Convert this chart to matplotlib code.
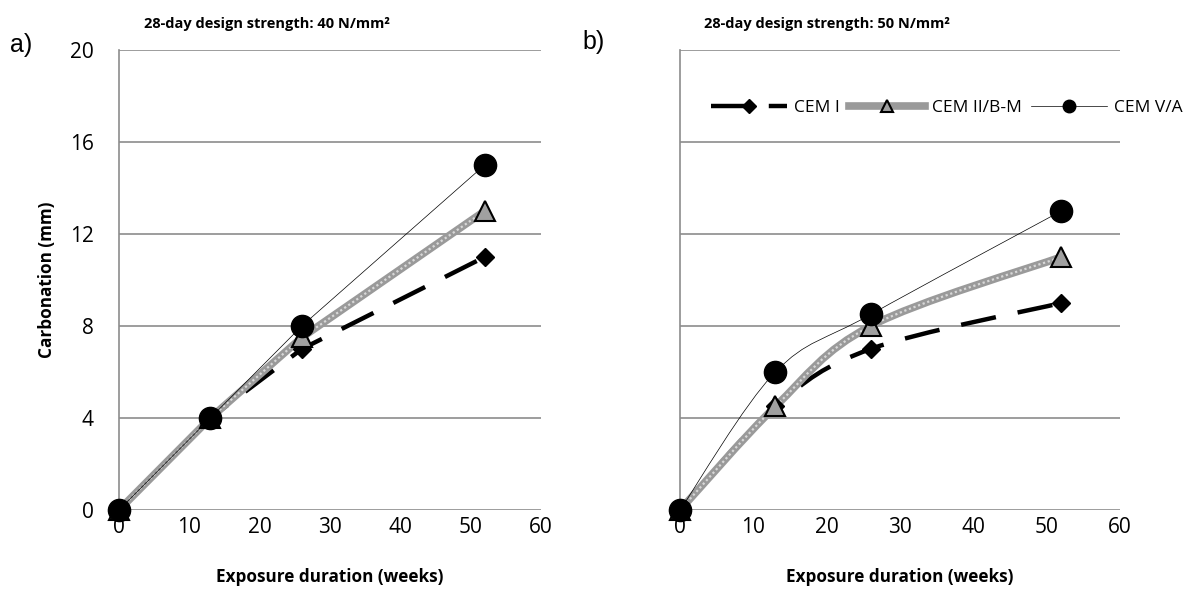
import numpy as np
import matplotlib.pyplot as plt
from matplotlib.path import Path
from matplotlib.patches import PathPatch
from matplotlib.lines import Line2D

plt.rcParams['font.family'] = ['Open Sans', 'DejaVu Sans']

weeks = [0, 13, 26, 52]

# a) 40 N/mm2
a_cem1 = [0, 4, 7, 11]
a_cem2 = [0, 4, 7.5, 13]
a_cem5 = [0, 4, 8, 15]

# b) 50 N/mm2
b_cem1 = [0, 4.5, 7, 9]
b_cem2 = [0, 4.5, 8, 11]
b_cem5 = [0, 6, 8.5, 13]

series_names = ['CEM I', 'CEM II/B-M', 'CEM V/A']
x_ticks = [0, 10, 20, 30, 40, 50, 60]
y_ticks = [0, 4, 8, 12, 16, 20]

styles = [
    dict(color='black', lw=3.2, dashes=(8, 5), zorder=3),
    dict(color='#9a9a9a', lw=5.5, zorder=4),
    dict(color='black', lw=0.5, zorder=5),
]
marks = [
    dict(marker='D', ms=9, mfc='black', mec='black', zorder=6),
    dict(marker='^', ms=15, mfc='#a0a0a0', mec='black', mew=1.5, zorder=7),
    dict(marker='o', ms=16, mfc='black', mec='black', zorder=8),
]


def smooth_path(x, y):
    # excel-style smoothed line as cubic bezier segments
    pts = np.column_stack([x, y]).astype(float)
    n = len(pts)
    verts = [pts[0]]
    codes = [Path.MOVETO]
    for i in range(n - 1):
        p0 = pts[i - 1] if i > 0 else pts[i]
        p1 = pts[i]
        p2 = pts[i + 1]
        p3 = pts[i + 2] if i + 2 < n else pts[i + 1]
        c1 = p1 + (p2 - p0) / 6
        c2 = p2 - (p3 - p1) / 6
        verts += [c1, c2, p2]
        codes += [Path.CURVE4] * 3
    return Path(verts, codes)


def draw(ax, ys, smooth):
    for y, st, mk in zip(ys, styles, marks):
        st = dict(st)
        dashes = st.pop('dashes', None)
        if smooth:
            patch = PathPatch(smooth_path(weeks, y), fill=False, edgecolor=st['color'],
                              lw=st['lw'], zorder=st['zorder'], capstyle='butt')
            if dashes:
                patch.set_linestyle((0, dashes))
            ax.add_patch(patch)
            if st['color'] == '#9a9a9a':
                p2 = PathPatch(smooth_path(weeks, y), fill=False, edgecolor='#d8d8d8',
                               lw=1.6, ls=(0, (1, 1.2)), zorder=st['zorder'])
                ax.add_patch(p2)
        else:
            kw = dict(st)
            if dashes:
                kw['dashes'] = dashes
            ax.plot(weeks, y, solid_capstyle='butt', dash_capstyle='butt', **kw)
            if st['color'] == '#9a9a9a':
                ax.plot(weeks, y, color='#d8d8d8', lw=1.6, ls=(0, (1, 1.2)), zorder=st['zorder'])
        ax.plot(weeks, y, ls='none', **mk)


fig = plt.figure(figsize=(12.03, 5.99), dpi=100)
ax1 = fig.add_axes([0.0989, 0.1486, 0.3508, 0.768])
ax2 = fig.add_axes([0.5653, 0.1486, 0.3657, 0.768])

draw(ax1, [a_cem1, a_cem2, a_cem5], smooth=False)
draw(ax2, [b_cem1, b_cem2, b_cem5], smooth=True)

for ax in (ax1, ax2):
    ax.set_xlim(0, 60)
    ax.set_ylim(0, 20)
    ax.set_xticks(x_ticks)
    ax.set_yticks(y_ticks)
    ax.yaxis.grid(True, color='#8c8c8c', lw=1.2)
    ax.set_axisbelow(True)
    for s in ('top', 'right', 'bottom'):
        ax.spines[s].set_visible(False)
    ax.spines['left'].set_color('#8c8c8c')
    ax.spines['left'].set_linewidth(1.2)
    ax.tick_params(axis='y', length=0, labelsize=15, pad=18)
    ax.tick_params(axis='x', length=0, labelsize=15, pad=5)
    for m in ax.lines:
        m.set_clip_on(False)
    for p in ax.patches:
        p.set_clip_on(False)
    ax.set_xlabel('Exposure duration (weeks)', fontsize=12.3, fontweight='bold', labelpad=22)

ax2.tick_params(labelleft=False)
ax1.set_ylabel('Carbonation (mm)', fontsize=12.3, fontweight='bold', labelpad=10)

fig.text(0.222, 0.96, '28-day design strength: 40 N/mm²', fontsize=10.5, fontweight='bold',
         ha='center', va='center')
fig.text(0.687, 0.96, '28-day design strength: 50 N/mm²', fontsize=10.5, fontweight='bold',
         ha='center', va='center')
fig.text(0.008, 0.925, 'a)', fontsize=18, family='Liberation Sans', va='center')
fig.text(0.484, 0.93, 'b)', fontsize=18, family='Liberation Sans', va='center')

handles = [
    Line2D([], [], color='black', lw=3.2, dashes=(8, 5), marker='D', ms=7, mfc='black'),
    Line2D([], [], color='#9a9a9a', lw=5.5, marker='^', ms=8, mfc='#a0a0a0', mec='black', mew=1.5),
    Line2D([], [], color='black', lw=0.5, marker='o', ms=9, mfc='black'),
]
fig.legend(handles, series_names, loc='center', bbox_to_anchor=(0.787, 0.82), ncol=3,
           frameon=False, fontsize=12.5, handlelength=4.4, columnspacing=0.5, handletextpad=0.4)

fig.savefig('out.png', dpi=100)
